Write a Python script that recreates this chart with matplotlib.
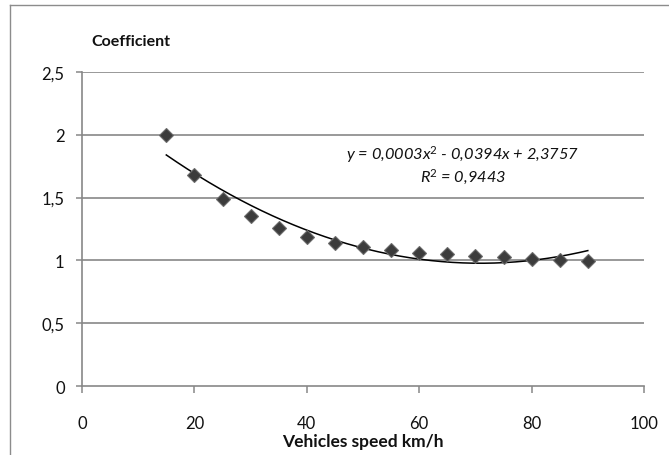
import numpy as np
import matplotlib
matplotlib.use("Agg")
import matplotlib.pyplot as plt
from matplotlib.lines import Line2D

# Speed (km/h) and measured coefficient
speed = [15, 20, 25, 30, 35, 40, 45, 50, 55, 60, 65, 70, 75, 80, 85, 90]
coefficient = [2.00, 1.68, 1.485, 1.355, 1.26, 1.19, 1.135, 1.105, 1.083, 1.062,
               1.05, 1.035, 1.025, 1.013, 1.003, 0.997]

x_ticks = [0, 20, 40, 60, 80, 100]
y_ticks = [0, 0.5, 1, 1.5, 2, 2.5]
y_tick_labels = ["0", "0,5", "1", "1,5", "2", "2,5"]
equation_text = "y = 0,0003x$^2$ - 0,0394x + 2,3757"
r2_text = "R$^2$ = 0,9443"

plt.rcParams["font.family"] = ["Lato", "DejaVu Sans"]
plt.rcParams["mathtext.fontset"] = "custom"
plt.rcParams["mathtext.rm"] = "Lato"
plt.rcParams["mathtext.it"] = "Lato:italic"

W, H = 669, 456
fig = plt.figure(figsize=(W / 100, H / 100), dpi=100)
fig.patch.set_facecolor("white")

# chart-area border (left and top edges)
border_col = "#8c8c8c"
fig.add_artist(Line2D([10 / W, 10 / W], [0, 1 - 6 / H], transform=fig.transFigure,
                      color=border_col, lw=1.0))
fig.add_artist(Line2D([10 / W, 1], [1 - 6 / H, 1 - 6 / H], transform=fig.transFigure,
                      color=border_col, lw=1.0))

ax = fig.add_axes([82 / W, 1 - 387 / H, (644 - 82) / W, (387 - 73) / H])
ax.set_xlim(0, 100)
ax.set_ylim(0, 2.5)

grid_col = "#878787"
for v in y_ticks[1:]:
    ax.axhline(v, color=grid_col, lw=1.2, zorder=1)

for side in ["top", "right"]:
    ax.spines[side].set_visible(False)
for side in ["left", "bottom"]:
    ax.spines[side].set_color(grid_col)
    ax.spines[side].set_linewidth(1.2)

ax.set_xticks(x_ticks)
ax.set_xticklabels([str(t) for t in x_ticks])
ax.set_yticks(y_ticks)
ax.set_yticklabels(y_tick_labels)
ax.tick_params(axis="x", direction="out", length=5, width=1.1, color=grid_col,
               labelsize=12, pad=16, labelcolor="#111111")
ax.tick_params(axis="y", direction="out", length=4.5, width=1.1, color=grid_col,
               labelsize=12, pad=8, labelcolor="#111111")

# second-order polynomial trendline fitted to the data
coef = np.polyfit(speed, coefficient, 2)
xs = np.linspace(min(speed), max(speed), 200)
ax.plot(xs, np.polyval(coef, xs), color="black", lw=1.1, zorder=3)

ax.plot(speed, coefficient, linestyle="none", marker="D", markersize=7.3,
        markerfacecolor="#3c3c3c", markeredgecolor="#6a6a6a", markeredgewidth=0.8,
        zorder=4)

ax.text(463 / W, 1 - 155 / H, equation_text, transform=fig.transFigure,
        ha="center", va="center", fontsize=11.8, style="italic", color="#111111")
ax.text(463 / W, 1 - 177 / H, r2_text, transform=fig.transFigure,
        ha="center", va="center", fontsize=11.8, style="italic", color="#111111")

fig.text(91 / W, 1 - 42 / H, "Coefficient", ha="left", va="center",
         fontsize=11.5, fontweight="bold", color="#111111")
fig.text(363 / W, 1 - 442 / H, "Vehicles speed km/h", ha="center", va="center",
         fontsize=12.5, fontweight="bold", color="#111111")

fig.savefig("out.png", dpi=100, facecolor="white")
